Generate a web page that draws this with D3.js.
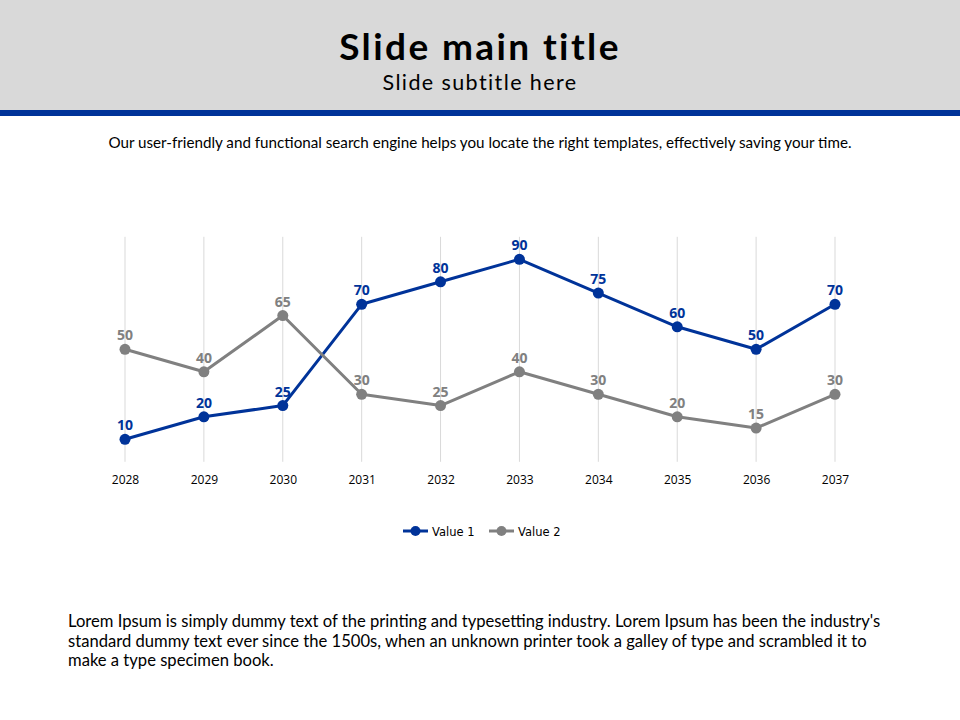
<!DOCTYPE html>
<html>
<head>
<meta charset="utf-8">
<script src="https://cdn.jsdelivr.net/npm/d3@7"></script>
<style>
  body { margin: 0; background: #fff; }
  svg { display: block; }
</style>
</head>
<body>
<div id="vis"></div>
<script>
const FRAME_WIDTH = 960;
const FRAME_HEIGHT = 720;

// chart data
const years = ["2028", "2029", "2030", "2031", "2032", "2033", "2034", "2035", "2036", "2037"];
const value1 = [10, 20, 25, 70, 80, 90, 75, 60, 50, 70];
const value2 = [50, 40, 65, 30, 25, 40, 30, 20, 15, 30];
const seriesNames = ["Value 1", "Value 2"];
const seriesColors = ["#003399", "#808080"];

const TITLE = "Slide main title";
const SUBTITLE = "Slide subtitle here";
const INTRO = "Our user-friendly and functional search engine helps you locate the right templates, effectively saving your time.";
const BODY_LINES = [
  "Lorem Ipsum is simply dummy text of the printing and typesetting industry. Lorem Ipsum has been the industry's",
  "standard dummy text ever since the 1500s, when an unknown printer took a galley of type and scrambled it to",
  "make a type specimen book."
];

const FRAME = d3.select("#vis")
  .append("svg")
    .attr("width", FRAME_WIDTH)
    .attr("height", FRAME_HEIGHT);

// header band
FRAME.append("rect")
  .attr("x", 0).attr("y", 0)
  .attr("width", FRAME_WIDTH).attr("height", 110)
  .attr("fill", "#d9d9d9");
FRAME.append("rect")
  .attr("x", 0).attr("y", 110)
  .attr("width", FRAME_WIDTH).attr("height", 6)
  .attr("fill", "#003399");

FRAME.append("text")
  .attr("x", 480).attr("y", 60)
  .attr("text-anchor", "middle")
  .attr("font-family", "Lato, sans-serif")
  .attr("font-weight", "bold")
  .attr("font-size", 37)
  .attr("letter-spacing", 2.4)
  .attr("fill", "#000")
  .text(TITLE);

FRAME.append("text")
  .attr("x", 480).attr("y", 90)
  .attr("text-anchor", "middle")
  .attr("font-family", "Lato, sans-serif")
  .attr("font-size", 21.5)
  .attr("letter-spacing", 1.4)
  .attr("fill", "#000")
  .text(SUBTITLE);

FRAME.append("text")
  .attr("x", 480).attr("y", 148)
  .attr("text-anchor", "middle")
  .attr("font-family", "Lato, sans-serif")
  .attr("font-size", 15.2)
  .attr("fill", "#000")
  .text(INTRO);

// scales
const X_SCALE = d3.scalePoint()
  .domain(years)
  .range([125, 835]);

const Y_SCALE = d3.scaleLinear()
  .domain([0, 100])
  .range([461.8, 236.8]);

// vertical gridlines
FRAME.append("g")
  .selectAll("line")
  .data(years)
  .enter()
  .append("line")
    .attr("x1", (d) => X_SCALE(d))
    .attr("x2", (d) => X_SCALE(d))
    .attr("y1", Y_SCALE(100))
    .attr("y2", Y_SCALE(0))
    .attr("stroke", "#d9d9d9")
    .attr("stroke-width", 1);

// x axis labels
const xAxis = FRAME.append("g")
  .attr("transform", `translate(0, ${Y_SCALE(0)})`)
  .call(d3.axisBottom(X_SCALE).tickSize(0).tickPadding(14));
xAxis.select(".domain").remove();
xAxis.selectAll("text")
  .attr("font-family", "'Open Sans', sans-serif")
  .attr("font-size", 12)
  .attr("fill", "#000");

const series = [value1, value2];

const line = d3.line()
  .x((d, i) => X_SCALE(years[i]))
  .y((d) => Y_SCALE(d));

series.forEach((vals, s) => {
  const g = FRAME.append("g");
  g.append("path")
    .datum(vals)
    .attr("d", line)
    .attr("fill", "none")
    .attr("stroke", seriesColors[s])
    .attr("stroke-width", 3)
    .attr("stroke-linejoin", "round");

  g.selectAll("circle")
    .data(vals)
    .enter()
    .append("circle")
      .attr("cx", (d, i) => X_SCALE(years[i]))
      .attr("cy", (d) => Y_SCALE(d))
      .attr("r", 5.5)
      .attr("fill", seriesColors[s]);

  g.selectAll("text")
    .data(vals)
    .enter()
    .append("text")
      .attr("x", (d, i) => X_SCALE(years[i]))
      .attr("y", (d) => Y_SCALE(d) - 9)
      .attr("text-anchor", "middle")
      .attr("font-family", "'Open Sans', sans-serif")
      .attr("font-weight", "bold")
      .attr("font-size", 14)
      .attr("fill", seriesColors[s])
      .text((d) => d);
});

// legend
const legendX = [403, 489];
const legend = FRAME.append("g");
seriesNames.forEach((name, s) => {
  const lx = legendX[s];
  legend.append("line")
    .attr("x1", lx).attr("x2", lx + 25)
    .attr("y1", 531).attr("y2", 531)
    .attr("stroke", seriesColors[s])
    .attr("stroke-width", 3);
  legend.append("circle")
    .attr("cx", lx + 12.5).attr("cy", 531)
    .attr("r", 5)
    .attr("fill", seriesColors[s]);
  legend.append("text")
    .attr("x", lx + 29).attr("y", 535.5)
    .attr("font-family", "'DejaVu Sans', sans-serif")
    .attr("font-size", 11.5)
    .attr("fill", "#000")
    .text(name);
});

// body paragraph
FRAME.append("g")
  .selectAll("text")
  .data(BODY_LINES)
  .enter()
  .append("text")
    .attr("x", 68)
    .attr("y", (d, i) => 627 + i * 19.5)
    .attr("font-family", "Lato, sans-serif")
    .attr("font-size", 16.6)
    .attr("fill", "#000")
    .text((d) => d);
</script>
</body>
</html>
